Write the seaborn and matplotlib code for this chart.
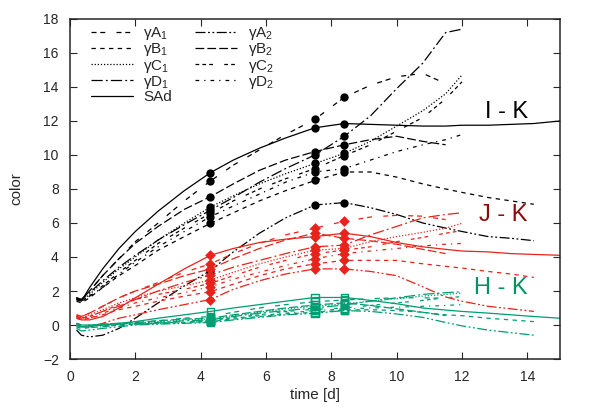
import numpy as np
import pandas as pd
import matplotlib
matplotlib.use("Agg")
import matplotlib.pyplot as plt
from matplotlib.lines import Line2D
import seaborn as sns

nan = np.nan

# ---- data ----
time = [0.2, 0.35, 0.6, 1.0, 1.5, 2.0, 2.7, 3.5, 4.3, 5.0, 5.8, 6.6, 7.5, 8.4,
        9.2, 10.0, 10.8, 11.5, 12.0, 12.8, 13.5, 14.2, 15.0]
marker_times = [4.3, 7.5, 8.4]

models = ['A1', 'B1', 'C1', 'D1', 'SAd', 'A2', 'B2', 'C2', 'D2']
labels = {'A1': 'γA$_1$', 'B1': 'γB$_1$', 'C1': 'γC$_1$', 'D1': 'γD$_1$', 'SAd': 'SAd',
          'A2': 'γA$_2$', 'B2': 'γB$_2$', 'C2': 'γC$_2$', 'D2': 'γD$_2$'}

i_k = {
    'SAd': [1.6, 1.4, 2.2, 3.3, 4.5, 5.5, 6.7, 7.9, 8.96, 9.7, 10.4, 11.0, 11.6, 11.85, 11.8, 11.75, 11.7, 11.7, 11.75, 11.75, 11.8, 11.85, 12.0],
    'A1': [1.6, 1.5, 2.0, 2.9, 3.9, 4.9, 6.0, 7.3, 8.47, 9.4, 10.3, 11.2, 12.1, 13.4, 14.1, 14.6, 14.8, 14.2, nan, nan, nan, nan, nan],
    'B1': [1.4, 1.3, 1.6, 2.2, 2.9, 3.5, 4.4, 5.2, 5.98, 6.6, 7.3, 7.9, 8.5, 9.0, 9.0, 8.7, 8.3, 8.0, 7.8, 7.5, 7.3, 7.1, nan],
    'C1': [1.5, 1.4, 1.8, 2.5, 3.3, 4.0, 5.0, 6.0, 6.94, 7.6, 8.3, 8.9, 9.5, 10.1, 10.8, 11.7, 12.6, 13.6, 14.7, nan, nan, nan, nan],
    'D1': [1.5, 1.5, 1.9, 2.6, 3.4, 4.1, 5.0, 5.9, 6.76, 7.5, 8.4, 9.2, 10.0, 11.1, 12.3, 13.9, 15.4, 17.2, 17.4, nan, nan, nan, nan],
    'A2': [-0.3, -0.6, -0.7, -0.6, -0.2, 0.4, 1.3, 2.3, 3.2, 4.3, 5.4, 6.3, 7.06, 7.2, 6.9, 6.5, 6.0, 5.7, 5.5, 5.2, 5.1, 4.96, nan],
    'B2': [1.6, 1.5, 2.0, 2.9, 3.9, 4.8, 5.8, 6.8, 7.55, 8.3, 9.1, 9.7, 10.2, 10.6, 10.9, 11.1, 10.8, 10.6, nan, nan, nan, nan, nan],
    'C2': [1.5, 1.4, 1.7, 2.3, 3.1, 3.8, 4.8, 5.7, 6.57, 7.3, 8.0, 8.6, 9.2, 9.96, 10.6, 11.4, 12.2, 13.3, 14.3, nan, nan, nan, nan],
    'D2': [1.5, 1.4, 1.7, 2.2, 3.0, 3.7, 4.6, 5.5, 6.37, 7.0, 7.7, 8.4, 9.0, 9.2, 9.7, 10.2, 10.6, 10.9, 11.2, nan, nan, nan, nan],
}

j_k = {
    'SAd': [0.5, 0.3, 0.3, 0.5, 1.0, 1.6, 2.4, 3.3, 4.1, 4.5, 4.85, 5.05, 5.2, 5.4, 5.2, 4.85, 4.6, 4.45, 4.35, 4.3, 4.2, 4.15, 4.1],
    'A1': [0.6, 0.5, 0.7, 1.1, 1.6, 2.0, 2.5, 3.1, 3.6, 4.2, 4.8, 5.3, 5.7, 6.1, 6.35, 6.45, 6.4, 6.2, nan, nan, nan, nan, nan],
    'B1': [0.4, 0.3, 0.4, 0.6, 0.9, 1.1, 1.4, 1.7, 1.96, 2.4, 2.9, 3.3, 3.6, 3.8, 3.8, 3.8, 3.6, 3.45, 3.35, 3.15, 3.0, 2.8, nan],
    'C1': [0.5, 0.4, 0.6, 0.9, 1.3, 1.6, 2.0, 2.3, 2.65, 3.1, 3.6, 4.0, 4.4, 4.5, 4.9, 5.2, 5.45, 5.7, 5.98, nan, nan, nan, nan],
    'D1': [0.5, 0.4, 0.5, 0.8, 1.1, 1.5, 2.0, 2.5, 2.94, 3.4, 3.8, 4.2, 4.6, 4.7, 5.3, 5.8, 6.3, 6.5, 6.6, nan, nan, nan, nan],
    'A2': [0.1, -0.1, -0.1, 0.1, 0.4, 0.6, 0.9, 1.2, 1.5, 2.1, 2.6, 3.0, 3.3, 3.3, 3.15, 2.9, 2.25, 1.65, 1.4, 1.1, 0.95, 0.8, nan],
    'B2': [0.6, 0.5, 0.7, 1.1, 1.6, 2.0, 2.4, 2.9, 3.3, 3.9, 4.5, 5.0, 5.4, 5.1, 4.95, 4.75, 4.45, 4.2, nan, nan, nan, nan, nan],
    'C2': [0.5, 0.4, 0.5, 0.8, 1.2, 1.5, 1.8, 2.1, 2.45, 2.9, 3.4, 3.8, 4.2, 4.4, 4.6, 4.9, 5.15, 5.4, 5.55, nan, nan, nan, nan],
    'D2': [0.4, 0.3, 0.4, 0.7, 1.0, 1.3, 1.6, 1.9, 2.25, 2.7, 3.1, 3.5, 3.9, 4.2, 4.35, 4.5, 4.65, 4.75, 4.8, nan, nan, nan, nan],
}

h_k = {
    'SAd': [0.0, -0.1, -0.05, 0.0, 0.1, 0.2, 0.4, 0.6, 0.8, 1.0, 1.2, 1.4, 1.62, 1.62, 1.45, 1.25, 1.0, 0.88, 0.8, 0.7, 0.6, 0.5, 0.4],
    'A1': [0.1, 0.0, 0.0, 0.05, 0.1, 0.15, 0.25, 0.4, 0.5, 0.75, 1.0, 1.2, 1.37, 1.47, 1.55, 1.6, 1.6, 1.57, nan, nan, nan, nan, nan],
    'B1': [-0.1, -0.2, -0.15, -0.1, 0.0, 0.05, 0.1, 0.15, 0.2, 0.35, 0.5, 0.65, 0.75, 0.88, 0.9, 0.85, 0.75, 0.6, 0.55, 0.4, 0.3, 0.2, nan],
    'C1': [0.0, -0.1, -0.05, 0.0, 0.05, 0.1, 0.2, 0.3, 0.35, 0.55, 0.75, 0.95, 1.1, 1.25, 1.4, 1.55, 1.7, 1.8, 1.88, nan, nan, nan, nan],
    'D1': [0.0, -0.1, -0.1, 0.0, 0.05, 0.1, 0.15, 0.25, 0.3, 0.5, 0.7, 0.85, 1.0, 1.18, 1.4, 1.6, 1.8, 1.9, 1.96, nan, nan, nan, nan],
    'A2': [-0.2, -0.35, -0.3, -0.2, -0.1, 0.0, 0.05, 0.1, 0.15, 0.3, 0.45, 0.6, 0.69, 0.85, 0.8, 0.65, 0.45, 0.15, -0.05, -0.3, -0.45, -0.6, nan],
    'B2': [0.1, 0.0, 0.0, 0.05, 0.1, 0.15, 0.25, 0.35, 0.4, 0.6, 0.8, 1.0, 1.18, 1.3, 1.15, 0.95, 0.75, 0.55, nan, nan, nan, nan, nan],
    'C2': [0.0, -0.1, -0.1, -0.05, 0.0, 0.05, 0.1, 0.2, 0.25, 0.45, 0.6, 0.8, 0.92, 1.0, 1.15, 1.3, 1.45, 1.6, 1.67, nan, nan, nan, nan],
    'D2': [-0.1, -0.2, -0.15, -0.1, 0.0, 0.05, 0.1, 0.15, 0.2, 0.4, 0.55, 0.7, 0.85, 0.95, 1.0, 1.05, 1.1, 1.15, 1.2, nan, nan, nan, nan],
}

# ---- styling ----
band_colors = {'I - K': 'black', 'J - K': '#e8231b', 'H - K': '#009e73'}
text_colors = {'I - K': 'black', 'J - K': '#8b0a0a', 'H - K': '#00925f'}
dash_styles = {
    'SAd': '',
    'A1': (4, 3, 4, 9),
    'B1': (3.5, 3.5),
    'C1': (1, 1.5),
    'D1': (9, 2.5, 1.5, 2.5),
    'A2': (8, 2, 1.5, 2, 1.5, 2),
    'B2': (7, 2.5),
    'C2': (3, 2.5, 3, 2.5, 3, 9),
    'D2': (3, 4, 1, 4),
}

rows = []
for band, data in [('I - K', i_k), ('J - K', j_k), ('H - K', h_k)]:
    for model in models:
        for t, v in zip(time, data[model]):
            rows.append({'band': band, 'model': model, 'time': t, 'color': v})
df = pd.DataFrame(rows).dropna()

sns.set_style("ticks")
plt.rcParams['font.family'] = ['Liberation Sans', 'DejaVu Sans']
plt.rcParams['mathtext.fontset'] = 'custom'
plt.rcParams['mathtext.rm'] = 'Liberation Sans'

fig = plt.figure(figsize=(5.9, 4.12), dpi=100)
ax = fig.add_axes([0.1186, 0.1286, 0.8305, 0.8254])

sns.lineplot(data=df, x='time', y='color', hue='band', style='model',
             palette=band_colors, dashes=dash_styles, estimator=None,
             lw=0.9, legend=False, ax=ax)

marks = df[df['time'].isin(marker_times)]
sns.scatterplot(data=marks[marks['band'] == 'I - K'], x='time', y='color',
                color='black', marker='o', s=36, linewidth=0, legend=False, ax=ax, zorder=4)
sns.scatterplot(data=marks[marks['band'] == 'J - K'], x='time', y='color',
                color=band_colors['J - K'], marker='D', s=30, linewidth=0, legend=False, ax=ax, zorder=4)
sns.scatterplot(data=marks[marks['band'] == 'H - K'], x='time', y='color',
                marker='s', s=30, facecolors='none', edgecolor=band_colors['H - K'],
                linewidth=1.0, legend=False, ax=ax, zorder=4)

# band labels
ax.text(13.36, 12.55, 'I - K', color=text_colors['I - K'], fontsize=17, ha='center', va='center')
ax.text(13.25, 6.47, 'J - K', color=text_colors['J - K'], fontsize=17, ha='center', va='center')
ax.text(13.2, 2.15, 'H - K', color=text_colors['H - K'], fontsize=17, ha='center', va='center')

ax.set_xlim(0, 15)
ax.set_ylim(-2, 18)
ax.set_xticks(range(0, 15, 2))
ax.set_yticks(range(-2, 19, 2))
ax.tick_params(direction='in', top=True, right=True, length=5, width=0.8,
               labelsize=10, pad=8)
for s in ax.spines.values():
    s.set_linewidth(1.1)
ax.set_xlabel('time [d]', fontsize=11, labelpad=3)
ax.set_ylabel('color', fontsize=11, labelpad=14)

handles = []
for model in models:
    h = Line2D([], [], color='black', lw=0.9)
    if dash_styles[model]:
        h.set_dashes(dash_styles[model])
    handles.append(h)
ax.legend(handles, [labels[m] for m in models], ncol=2, loc='upper left',
          bbox_to_anchor=(0.03, 1.0), frameon=False, fontsize=11,
          handlelength=2.75, handletextpad=0.7, columnspacing=1.5,
          labelspacing=-0.05, borderaxespad=0.0)

fig.savefig('out.png', dpi=100)
